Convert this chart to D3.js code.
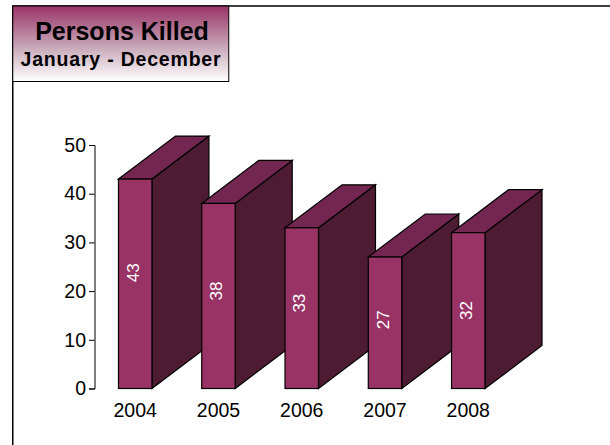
<!DOCTYPE html>
<html><head><meta charset="utf-8">
<script src="https://cdn.jsdelivr.net/npm/d3@7"></script>
<style>html,body{margin:0;padding:0;background:#fff;overflow:hidden}svg{display:block}text{font-family:"Liberation Sans",Arial,sans-serif}</style>
</head><body><svg id="c" width="610" height="445"></svg>
<script>
const categories = ["2004","2005","2006","2007","2008"];
const killed = [43,38,33,27,32];
const yTicks = [0,10,20,30,40,50];
const titleLines = ["Persons Killed","January - December"];

const svg = d3.select("#c");
const y = d3.scaleLinear().domain([0,50]).range([388.5,145]);
const x = d3.scaleBand().domain(categories).range([94.5,509]).paddingInner(0.598).paddingOuter(0.288);
const depth = {dx:57, dy:-43};
const labelNudge = [-11,-5,-5,-3,0];

const defs = svg.append("defs");
const g = defs.append("linearGradient").attr("id","tg").attr("x1",0).attr("y1",0).attr("x2",0).attr("y2",1);
g.append("stop").attr("offset",0).attr("stop-color","#993366");
g.append("stop").attr("offset",0.55).attr("stop-color","#c9a9b9");
g.append("stop").attr("offset",1).attr("stop-color","#ffffff");

svg.append("rect").attr("x",12.75).attr("y",6).attr("width",700).attr("height",600).attr("fill","#fff").attr("stroke","#000").attr("stroke-width",1.5);
svg.append("rect").attr("x",12.75).attr("y",6).attr("width",216).attr("height",75.5).attr("fill","url(#tg)").attr("stroke","#000").attr("stroke-width",1);
svg.append("text").attr("x",122).attr("y",39.5).attr("text-anchor","middle").attr("font-size",25).attr("font-weight","bold").text(titleLines[0]);
svg.append("text").attr("x",121).attr("y",65.7).attr("text-anchor","middle").attr("font-size",19.5).attr("letter-spacing",0.8).attr("font-weight","bold").text(titleLines[1]);

const axis = d3.axisLeft(y).tickValues(yTicks).tickSize(5.5).tickPadding(3);
const ag = svg.append("g").attr("transform","translate(94.5,0)").call(axis);
ag.selectAll("path,line").attr("stroke","#000");
ag.selectAll("text").attr("font-size",19.5).attr("fill","#000").style("font-family",'"Liberation Sans",Arial,sans-serif');

const line = d3.line();
categories.forEach((c,i)=>{
  const v = killed[i], x0 = x(c), x1 = x0 + x.bandwidth(), yt = y(v), yb = y(0);
  const b = svg.append("g").attr("stroke","#000").attr("stroke-width",1.2).attr("stroke-linejoin","miter");
  b.append("path").attr("fill","#4d1c33").attr("d",line([[x1,yb],[x1+depth.dx,yb+depth.dy],[x1+depth.dx,yt+depth.dy],[x1,yt]])+"Z");
  b.append("path").attr("fill","#732650").attr("d",line([[x0,yt],[x0+depth.dx,yt+depth.dy],[x1+depth.dx,yt+depth.dy],[x1,yt]])+"Z");
  b.append("rect").attr("x",x0).attr("y",yt).attr("width",x.bandwidth()).attr("height",yb-yt).attr("fill","#993366");
  const cx = (x0+x1)/2, cy=(yt+yb)/2+labelNudge[i];
  svg.append("text").attr("transform",`translate(${cx+3.5},${cy}) rotate(-90)`).attr("text-anchor","middle").attr("font-size",17).attr("fill","#fff").text(v);
  svg.append("text").attr("x",cx).attr("y",416.7).attr("text-anchor","middle").attr("font-size",19.5).text(c);
});
</script></body></html>
